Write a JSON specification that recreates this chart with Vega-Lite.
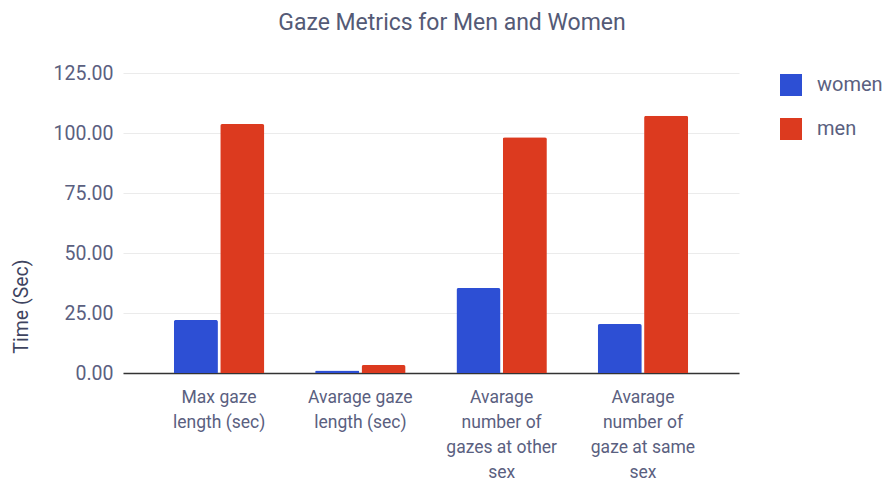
{
  "$schema": "https://vega.github.io/schema/vega-lite/v6.json",
  "autosize": {"type": "none"},
  "width": 616,
  "height": 300,
  "padding": {"left": 123, "top": 73, "right": 147, "bottom": 112},
  "background": "white",
  "config": {"view": {"stroke": null}},
  "title": {
    "text": "Gaze Metrics for Men and Women",
    "font": "Roboto",
    "fontSize": 23,
    "fontWeight": "normal",
    "color": "#545a76",
    "offset": 28,
    "dx": 21
  },
  "data": {
    "values": [
      {"metric": "Max gaze|length (sec)", "sex": "women", "value": 22.1},
      {"metric": "Max gaze|length (sec)", "sex": "men", "value": 103.7},
      {"metric": "Avarage gaze|length (sec)", "sex": "women", "value": 1.0},
      {"metric": "Avarage gaze|length (sec)", "sex": "men", "value": 3.3},
      {"metric": "Avarage|number of|gazes at other|sex", "sex": "women", "value": 35.4},
      {"metric": "Avarage|number of|gazes at other|sex", "sex": "men", "value": 98.2},
      {"metric": "Avarage|number of|gaze at same|sex", "sex": "women", "value": 20.4},
      {"metric": "Avarage|number of|gaze at same|sex", "sex": "men", "value": 107.2}
    ]
  },
  "mark": {"type": "bar", "cornerRadiusEnd": 2},
  "encoding": {
    "x": {
      "field": "metric",
      "type": "nominal",
      "sort": null,
      "scale": {"paddingInner": 0.36, "paddingOuter": 0.36},
      "axis": {
        "title": null,
        "labelAngle": 0,
        "labelExpr": "split(datum.label, '|')",
        "labelFont": "Roboto",
        "labelFontSize": 17.5,
        "labelColor": "#5a6080",
        "labelLineHeight": 25,
        "labelPadding": 15,
        "ticks": false,
        "domainColor": "#333333",
        "domainWidth": 1.5,
        "labelLimit": 200
      }
    },
    "xOffset": {
      "field": "sex",
      "type": "nominal",
      "sort": ["women", "men"],
      "scale": {"paddingInner": 0.05}
    },
    "y": {
      "field": "value",
      "type": "quantitative",
      "scale": {"domain": [0, 125]},
      "axis": {
        "title": "Time (Sec)",
        "values": [0, 25, 50, 75, 100, 125],
        "format": ".2f",
        "labelFont": "Roboto",
        "labelFontSize": 19.5,
        "labelColor": "#5a6080",
        "labelPadding": 10,
        "ticks": false,
        "domain": false,
        "gridColor": "#ebebeb",
        "titleFont": "Roboto",
        "titleFontSize": 19.5,
        "titleFontWeight": "normal",
        "titleColor": "#3e4460",
        "titleX": -102,
        "titleY": 233,
        "titleBaseline": "middle",
        "titleAlign": "center",
        "titleAngle": -90
      }
    },
    "color": {
      "field": "sex",
      "type": "nominal",
      "sort": ["women", "men"],
      "scale": {"domain": ["women", "men"], "range": ["#2d4fd4", "#dc3a1f"]},
      "legend": {
        "title": null,
        "orient": "none",
        "legendX": 657,
        "legendY": 1,
        "symbolType": "square",
        "symbolSize": 484,
        "symbolStrokeWidth": 0,
        "rowPadding": 22,
        "labelOffset": 15,
        "labelFont": "Roboto",
        "labelFontSize": 20,
        "labelColor": "#5a6080"
      }
    }
  }
}
